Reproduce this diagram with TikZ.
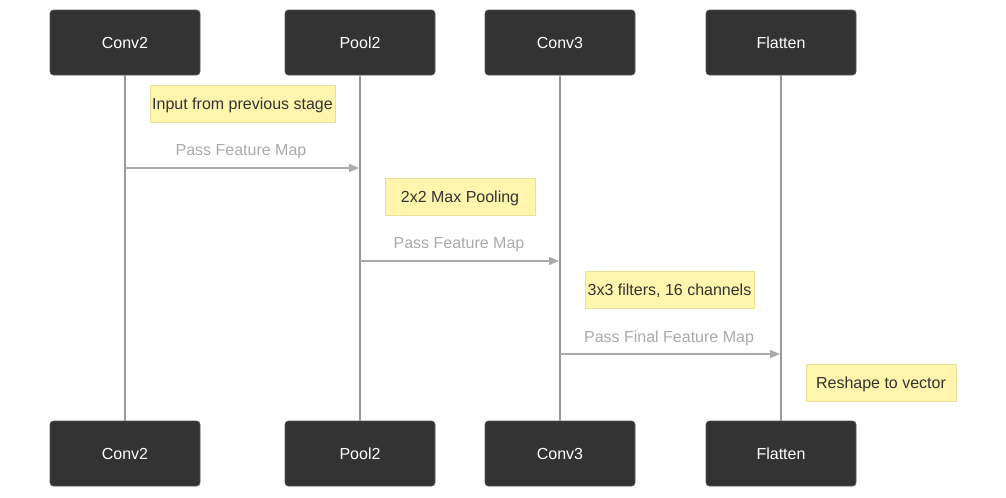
\documentclass[tikz,border=0pt]{standalone}
\usepackage{fontspec}
\setmainfont{Liberation Sans}
\usetikzlibrary{arrows.meta}
\definecolor{actorfill}{HTML}{333333}
\definecolor{actorline}{HTML}{555555}
\definecolor{lifeline}{HTML}{999999}
\definecolor{msgline}{HTML}{AAAAAA}
\definecolor{notefill}{HTML}{FFF5AD}
\definecolor{noteline}{HTML}{E8E09A}
\tikzset{
  actor/.style = {draw=actorline,fill=actorfill,text=white,rounded corners=2.5pt,
    minimum width=112.5pt,minimum height=48.75pt,inner sep=0pt,
    text height=10pt,text depth=1.4pt,font=\fontsize{12}{14}\selectfont},
  note/.style = {draw=noteline,fill=notefill,text=black!80,minimum height=27.75pt,
    inner sep=0pt,text height=10pt,text depth=1.4pt,font=\fontsize{12}{14}\selectfont},
  life/.style = {draw=lifeline,line width=1.1pt},
  msg/.style = {draw=msgline,line width=1.1pt,->},
  msglabel/.style = {text=msgline,font=\fontsize{12}{14}\selectfont}
}
\tikzset{>={Triangle[length=7.5pt,width=6pt]}}

\begin{document}
\begin{tikzpicture}[x=0.75pt,y=-0.75pt]
  \useasboundingbox (0,0) rectangle (1006,497);
  % actors, top and bottom
  \node[actor] (c2top) at (125,42.5) {Conv2};
  \node[actor] (p2top) at (360,42.5) {Pool2};
  \node[actor] (c3top) at (560,42.5) {Conv3};
  \node[actor] (fltop) at (781,42.5) {Flatten};
  \node[actor] (c2bot) at (125,453.5) {Conv2};
  \node[actor] (p2bot) at (360,453.5) {Pool2};
  \node[actor] (c3bot) at (560,453.5) {Conv3};
  \node[actor] (flbot) at (781,453.5) {Flatten};
  % lifelines
  \draw[life] (c2top) -- (c2bot);
  \draw[life] (p2top) -- (p2bot);
  \draw[life] (c3top) -- (c3bot);
  \draw[life] (fltop) -- (flbot);
  % notes
  \node[note,minimum width=138.75pt] (n1) at (242.5,103.5) {Input from previous stage};
  \node[note,minimum width=112.5pt] (n2) at (460,196.5) {2x2 Max Pooling};
  \node[note,minimum width=126.75pt] (n3) at (669.5,289.5) {3x3 filters, 16 channels};
  \node[note,minimum width=112.5pt] (n4) at (881,382.5) {Reshape to vector};
  % messages
  \coordinate (m1a) at (125,168);
  \coordinate (m1b) at (359,168);
  \coordinate (m2a) at (360,261);
  \coordinate (m2b) at (559,261);
  \coordinate (m3a) at (560,354);
  \coordinate (m3b) at (780,354);
  \draw[msg] (m1a) -- (m1b);
  \draw[msg] (m2a) -- (m2b);
  \draw[msg] (m3a) -- (m3b);
  \node[msglabel] (l1) at (241,152) {Pass Feature Map};
  \node[msglabel] (l2) at (459,245) {Pass Feature Map};
  \node[msglabel] (l3) at (669,338) {Pass Final Feature Map};
\end{tikzpicture}
\end{document}
